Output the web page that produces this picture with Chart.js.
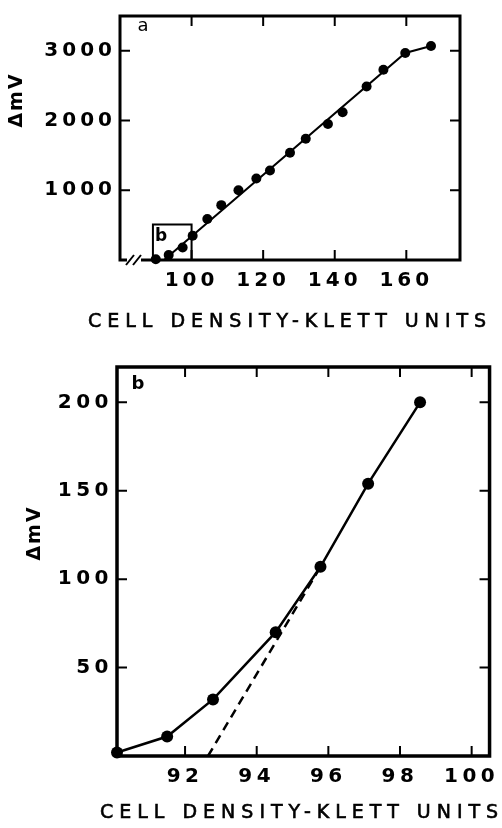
<!DOCTYPE html>
<html>
<head>
<meta charset="utf-8">
<script src="https://cdn.jsdelivr.net/npm/chart.js@4.4.1/dist/chart.umd.min.js"></script>
<style>
  html, body { margin: 0; padding: 0; background: #fff; width: 502px; height: 828px; overflow: hidden; }
  .box { position: absolute; left: 0; width: 502px; }
  #boxA { top: 0; height: 345px; }
  #boxB { top: 345px; height: 483px; }
</style>
</head>
<body>
<div class="box" id="boxA"><canvas id="chartA"></canvas></div>
<div class="box" id="boxB"><canvas id="chartB"></canvas></div>
<script>
// panel a - whole run
var densityA = [90.0, 93.6, 97.5, 100.3, 104.4, 108.3, 113.1, 118.1, 121.9, 127.5, 131.9, 138.1, 142.2, 148.9, 153.6, 159.7, 166.9]
var mvA = [10, 70, 180, 347, 589, 787, 1000, 1170, 1284, 1539, 1738, 1950, 2120, 2490, 2730, 2970, 3070]
var fitDensityA = [92.3, 159.7, 166.9]
var fitMvA = [0, 2970, 3070]
// outline of the region blown up in panel b
var insetDensity = [89.2, 89.2, 100, 100]
var insetMv = [0, 510, 510, 0]
var xTicksA = [100, 120, 140, 160]
var yTicksA = [1000, 2000, 3000]

// panel b - close up of the start
var densityB = [90.1, 91.5, 92.78, 94.53, 95.78, 97.11, 98.56]
var mvB = [2, 11, 32, 70, 107, 154, 200]
var dashDensityB = [92.64, 95.78]
var dashMvB = [0, 107]
var xTicksB = [92, 94, 96, 98, 100]
var yTicksB = [50, 100, 150, 200]

var xTitle = 'CELL DENSITY-KLETT UNITS'
var yTitle = '\u0394mV'
var FONT = 'DejaVu Sans'

function pts (xs, ys) {
  return xs.map(function (x, i) { return { x: x, y: ys[i] } })
}

// box, inward ticks on all four sides and the loose labels
function framePlugin (o) {
  return {
    id: 'frame',
    beforeDraw: function (chart) { chart.ctx.letterSpacing = o.tickSpacing + 'px' },
    afterDraw: function (chart) {
      var ctx = chart.ctx
      var a = chart.chartArea
      var xs = chart.scales.x
      var ys = chart.scales.y
      ctx.save()
      ctx.strokeStyle = '#000'
      ctx.fillStyle = '#000'
      ctx.lineWidth = o.frameWidth
      ctx.strokeRect(a.left, a.top, a.right - a.left, a.bottom - a.top)
      ctx.lineWidth = 2
      ctx.beginPath()
      xs.ticks.forEach(function (t) {
        var px = xs.getPixelForValue(t.value)
        ctx.moveTo(px, a.bottom); ctx.lineTo(px, a.bottom - o.tickLen)
        ctx.moveTo(px, a.top); ctx.lineTo(px, a.top + o.tickLen)
      })
      ys.ticks.forEach(function (t) {
        var py = ys.getPixelForValue(t.value)
        ctx.moveTo(a.left, py); ctx.lineTo(a.left + o.tickLen, py)
        ctx.moveTo(a.right, py); ctx.lineTo(a.right - o.tickLen, py)
      })
      ctx.stroke()

      if (o.axisBreak) {
        // the // on the cut x axis
        ctx.fillStyle = '#fff'
        ctx.fillRect(a.left + 7, a.bottom - 3, 14, 6)
        ctx.fillStyle = '#000'
        ctx.lineWidth = 2
        ctx.beginPath()
        ctx.moveTo(a.left + 6, a.bottom + 5); ctx.lineTo(a.left + 14, a.bottom - 5)
        ctx.moveTo(a.left + 13, a.bottom + 5); ctx.lineTo(a.left + 21, a.bottom - 5)
        ctx.stroke()
      }

      // axis titles
      ctx.textBaseline = 'middle'
      ctx.font = '19px "' + FONT + '"'
      ctx.letterSpacing = '6px'
      ctx.textAlign = 'left'
      ctx.lineWidth = 0.6
      ctx.fillText(xTitle, o.xTitleX, o.xTitleY)
      ctx.strokeText(xTitle, o.xTitleX, o.xTitleY)

      ctx.save()
      ctx.translate(o.yTitleX, o.yTitleY)
      ctx.rotate(-Math.PI / 2)
      ctx.textAlign = 'center'
      ctx.font = 'bold 19px "' + FONT + '"'
      ctx.letterSpacing = '2px'
      ctx.fillText(yTitle, 0, 0)
      ctx.restore()

      // panel letters
      ctx.letterSpacing = '0px'
      ctx.textAlign = 'center'
      o.letters.forEach(function (l) {
        ctx.font = l.font + ' "' + FONT + '"'
        ctx.fillText(l.text, l.x, l.y)
      })
      ctx.restore()
    }
  }
}

function axes (xMin, xMax, xTicks, yMin, yMax, yTicks, yWidth, xHeight, padX, padY) {
  var tickFont = { family: FONT, size: 20, weight: 'bold' }
  var plain = function (v) { return String(v) }
  return {
    x: {
      type: 'linear',
      min: xMin,
      max: xMax,
      grid: { display: false, drawTicks: false },
      border: { display: false },
      afterBuildTicks: function (s) { s.ticks = xTicks.map(function (v) { return { value: v } }) },
      afterFit: function (s) { s.height = xHeight },
      ticks: { font: tickFont, color: '#000', padding: padX, autoSkip: false, maxRotation: 0, callback: plain }
    },
    y: {
      type: 'linear',
      min: yMin,
      max: yMax,
      grid: { display: false, drawTicks: false },
      border: { display: false },
      afterBuildTicks: function (s) { s.ticks = yTicks.map(function (v) { return { value: v } }) },
      afterFit: function (s) { s.width = yWidth },
      ticks: { font: tickFont, color: '#000', padding: padY, autoSkip: false, callback: plain }
    }
  }
}

var common = {
  responsive: true,
  maintainAspectRatio: false,
  animation: false,
  plugins: { legend: { display: false }, tooltip: { enabled: false } }
}

// panel a
new Chart(document.getElementById('chartA'), {
  type: 'scatter',
  data: {
    datasets: [
      { data: pts(densityA, mvA), pointRadius: 5, pointBackgroundColor: '#000', pointBorderWidth: 0, showLine: false, clip: false },
      { data: pts(fitDensityA, fitMvA), showLine: true, borderColor: '#000', borderWidth: 2, pointRadius: 0, clip: false },
      { data: pts(insetDensity, insetMv), showLine: true, borderColor: '#000', borderWidth: 2, pointRadius: 0, clip: false }
    ]
  },
  options: Object.assign({}, common, {
    layout: { padding: { top: 12, right: 42, left: 0, bottom: 0 } },
    scales: axes(80, 175, xTicksA, 0, 3500, yTicksA, 120, 85, 9, 4)
  }),
  plugins: [framePlugin({
    tickSpacing: 4,
    frameWidth: 3,
    tickLen: 10,
    axisBreak: true,
    xTitleX: 88,
    xTitleY: 322,
    yTitleX: 17,
    yTitleY: 100,
    letters: [
      { text: 'a', x: 143, y: 26, font: '18px' },
      { text: 'b', x: 161, y: 237, font: 'bold 17px' }
    ]
  })]
})

// panel b
new Chart(document.getElementById('chartB'), {
  type: 'scatter',
  data: {
    datasets: [
      { data: pts(densityB, mvB), showLine: true, borderColor: '#000', borderWidth: 2.5, pointRadius: 6, pointBackgroundColor: '#000', pointBorderWidth: 0, clip: false },
      { data: pts(dashDensityB, dashMvB), showLine: true, borderColor: '#000', borderWidth: 2.5, borderDash: [9, 6], pointRadius: 0, clip: false }
    ]
  },
  options: Object.assign({}, common, {
    layout: { padding: { top: 22, right: 10, left: 0, bottom: 0 } },
    scales: axes(90.1, 100.5, xTicksB, 0, 220, yTicksB, 117, 72, 9, 4)
  }),
  plugins: [framePlugin({
    tickSpacing: 4.5,
    frameWidth: 3.5,
    tickLen: 10,
    axisBreak: false,
    xTitleX: 100,
    xTitleY: 468,
    yTitleX: 35,
    yTitleY: 188,
    letters: [
      { text: 'b', x: 138, y: 39, font: 'bold 18px' }
    ]
  })]
})
</script>
</body>
</html>
